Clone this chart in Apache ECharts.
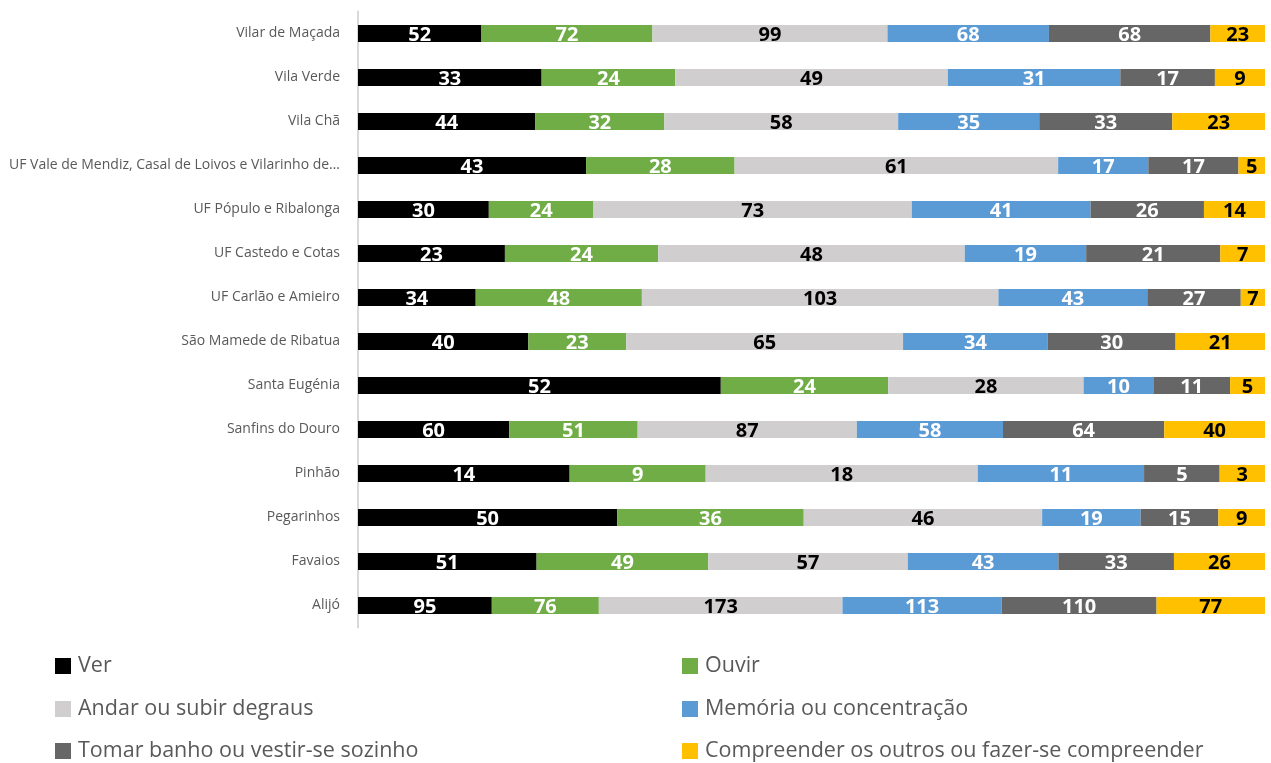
<!DOCTYPE html>
<html>
<head>
<meta charset="utf-8">
<script src="https://cdn.jsdelivr.net/npm/echarts@6/dist/echarts.min.js"></script>
<style>
html,body{margin:0;padding:0;background:#fff;}
#chart{width:1271px;height:763px;}
</style>
</head>
<body>
<div id="chart"></div>
<script>
const categories = [
  "Vilar de Maçada",
  "Vila Verde",
  "Vila Chã",
  "UF Vale de Mendiz, Casal de Loivos e Vilarinho de…",
  "UF Pópulo e Ribalonga",
  "UF Castedo e Cotas",
  "UF Carlão e Amieiro",
  "São Mamede de Ribatua",
  "Santa Eugénia",
  "Sanfins do Douro",
  "Pinhão",
  "Pegarinhos",
  "Favaios",
  "Alijó"
];
const seriesNames = [
  "Ver",
  "Ouvir",
  "Andar ou subir degraus",
  "Memória ou concentração",
  "Tomar banho ou vestir-se sozinho",
  "Compreender os outros ou fazer-se compreender"
];
const ver =         [52, 33, 44, 43, 30, 23, 34, 40, 52, 60, 14, 50, 51, 95];
const ouvir =       [72, 24, 32, 28, 24, 24, 48, 23, 24, 51,  9, 36, 49, 76];
const andar =       [99, 49, 58, 61, 73, 48, 103, 65, 28, 87, 18, 46, 57, 173];
const memoria =     [68, 31, 35, 17, 41, 19, 43, 34, 10, 58, 11, 19, 43, 113];
const tomarBanho =  [68, 17, 33, 17, 26, 21, 27, 30, 11, 64,  5, 15, 33, 110];
const compreender = [23,  9, 23,  5, 14,  7,  7, 21,  5, 40,  3,  9, 26, 77];

const valuesList = [ver, ouvir, andar, memoria, tomarBanho, compreender];
const colors = ["#000000", "#70ad47", "#d0cece", "#5b9bd5", "#666666", "#ffc000"];
const labelColors = ["#ffffff", "#ffffff", "#000000", "#ffffff", "#ffffff", "#000000"];

const totals = categories.map((c, i) => valuesList.reduce((s, arr) => s + arr[i], 0));

const series = seriesNames.map((name, k) => ({
  name: name,
  type: 'bar',
  stack: 'total',
  barWidth: 17,
  itemStyle: { color: colors[k] },
  label: {
    show: true,
    position: 'inside',
    offset: [0, 2],
    color: labelColors[k],
    fontFamily: 'Open Sans',
    fontWeight: 'bold',
    fontSize: 20,
    formatter: p => String(valuesList[k][p.dataIndex])
  },
  data: valuesList[k].map((v, i) => v / totals[i] * 100)
}));

// legend: 2 columns x 3 rows, one component per item
const legendLefts = [55, 682];
const legendTops = [655, 698, 740];
const legends = seriesNames.map((name, k) => ({
  orient: 'horizontal',
  left: legendLefts[k % 2],
  top: legendTops[Math.floor(k / 2)],
  padding: 0,
  itemWidth: 16, itemHeight: 16,
  icon: 'rect',
  textStyle: { color: '#595959', fontSize: 21.5, lineHeight: 20, fontFamily: 'Open Sans', padding: [0, 0, 0, 2] },
  data: [name]
}));

const chart = echarts.init(document.getElementById('chart'), null, { renderer: 'canvas' });
chart.setOption({
  animation: false,
  backgroundColor: '#ffffff',
  textStyle: { fontFamily: 'Open Sans' },
  grid: { left: 358, right: 6, top: 11.5, bottom: 135.5, containLabel: false },
  xAxis: {
    type: 'value', min: 0, max: 100, show: false
  },
  yAxis: {
    type: 'category',
    inverse: true,
    data: categories,
    axisLine: { show: true, lineStyle: { color: '#d9d9d9', width: 2 } },
    axisTick: { show: false },
    axisLabel: { color: '#595959', fontSize: 14, fontFamily: 'Open Sans', margin: 18 }
  },
  legend: legends,
  series: series
});
</script>
</body>
</html>
